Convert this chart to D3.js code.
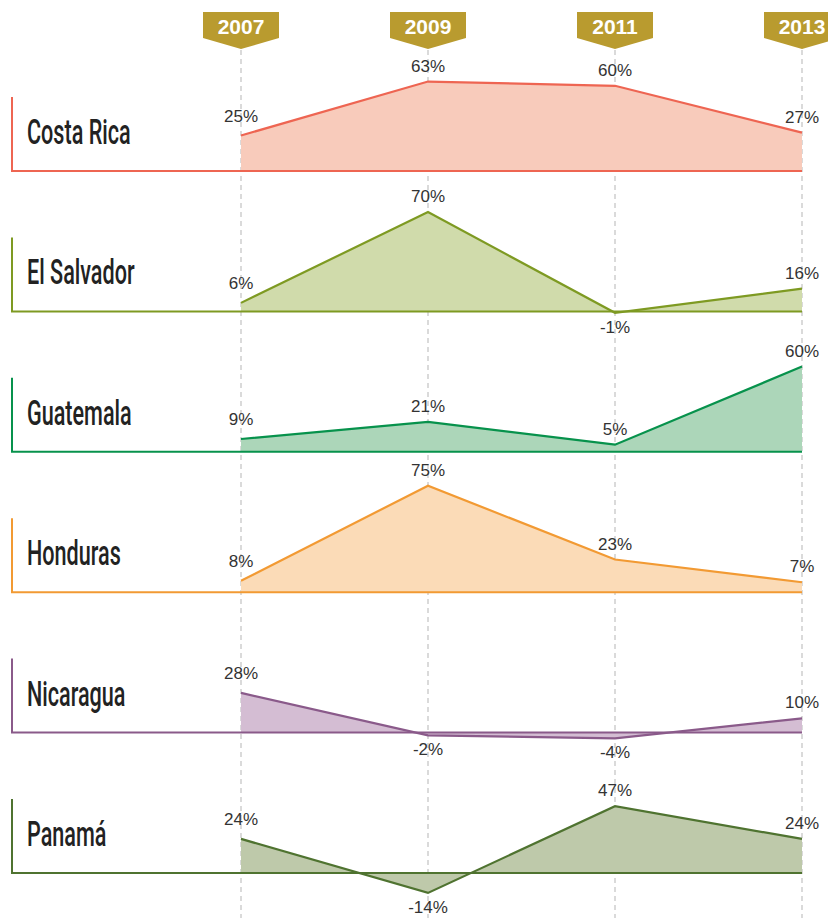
<!DOCTYPE html>
<html>
<head>
<meta charset="utf-8">
<script src="https://cdn.jsdelivr.net/npm/d3@7"></script>
<style>
  body { margin: 0; background: #fff; }
  svg { display: block; }
</style>
</head>
<body>
<div id="chart"></div>
<script>
// data
const years = ["2007", "2009", "2011", "2013"];
const countries = ["Costa Rica", "El Salvador", "Guatemala", "Honduras", "Nicaragua", "Panamá"];
const costaRica = [25, 63, 60, 27];
const elSalvador = [6, 70, -1, 16];
const guatemala = [9, 21, 5, 60];
const honduras = [8, 75, 23, 7];
const nicaragua = [28, -2, -4, 10];
const panama = [24, -14, 47, 24];
const seriesValues = [costaRica, elSalvador, guatemala, honduras, nicaragua, panama];

const lineColors = ["#ee6552", "#7e9a22", "#07924c", "#f29a33", "#8a5a8a", "#4f7330"];
const fillColors = ["#f8cbbb", "#d0dbab", "#acd6b9", "#fbdbb7", "#d4bdd3", "#bec9aa"];

const width = 828, height = 918;

const svg = d3.select("#chart")
    .append("svg")
    .attr("width", width)
    .attr("height", height);

// x positions for years
const x = d3.scalePoint()
    .domain(years)
    .range([241, 802]);

// one band per country, baseline at bottom of band
const row = d3.scalePoint()
    .domain(countries)
    .range([171, 873]);

// height scale in % (pixels above baseline)
const h = d3.scaleLinear()
    .domain([0, 100])
    .range([0, 142]);

// dashed guides
svg.append("g")
    .selectAll("line")
    .data(years)
    .join("line")
    .attr("x1", d => x(d))
    .attr("x2", d => x(d))
    .attr("y1", 50)
    .attr("y2", height)
    .attr("stroke", "#b5b5b5")
    .attr("stroke-width", 1)
    .attr("stroke-dasharray", "5,4");

// year badges
const badge = svg.append("g")
    .selectAll("g")
    .data(years)
    .join("g")
    .attr("transform", d => `translate(${x(d)},0)`);

badge.append("path")
    .attr("d", "M-38,12 L38,12 L38,38 L0,49 L-38,38 Z")
    .attr("fill", "#b99b2f");

badge.append("text")
    .attr("y", 34)
    .attr("text-anchor", "middle")
    .attr("fill", "#fff")
    .style("font", "bold 21px 'Liberation Sans', Arial, sans-serif")
    .text(d => d);

// one panel per country
countries.forEach((c, i) => {
    const base = row(c);
    const vals = seriesValues[i];
    const pts = years.map((y, j) => ({year: y, v: vals[j], j: j}));
    const g = svg.append("g");

    const area = d3.area()
        .x(d => x(d.year))
        .y0(base)
        .y1(d => base - h(d.v));

    const line = d3.line()
        .x(d => x(d.year))
        .y(d => base - h(d.v));

    g.append("path")
        .datum(pts)
        .attr("d", area)
        .attr("fill", fillColors[i]);

    // bracket + baseline
    g.append("path")
        .attr("d", `M12,${base - 74} L12,${base} L${x(years[3])},${base}`)
        .attr("fill", "none")
        .attr("stroke", lineColors[i])
        .attr("stroke-width", 2);

    g.append("path")
        .datum(pts)
        .attr("d", line)
        .attr("fill", "none")
        .attr("stroke", lineColors[i])
        .attr("stroke-width", 2.2)
        .attr("stroke-linejoin", "miter");

    // country name (condensed look)
    g.append("text")
        .attr("transform", `translate(27,${base - 27}) scale(0.6,1)`)
        .attr("fill", "#222")
        .style("font", "500 36px Roboto, 'Liberation Sans', Arial, sans-serif")
        .text(c);

    // value labels
    g.selectAll(".val")
        .data(pts)
        .join("text")
        .attr("class", "val")
        .attr("x", d => x(d.year))
        .attr("y", d => d.v >= 0 ? base - h(d.v) - (d.j === 0 ? 14 : 10) : base - h(d.v) + 20)
        .attr("text-anchor", "middle")
        .attr("fill", "#333")
        .style("font", "17px 'Liberation Sans', Arial, sans-serif")
        .text(d => d.v + "%");
});
</script>
</body>
</html>
